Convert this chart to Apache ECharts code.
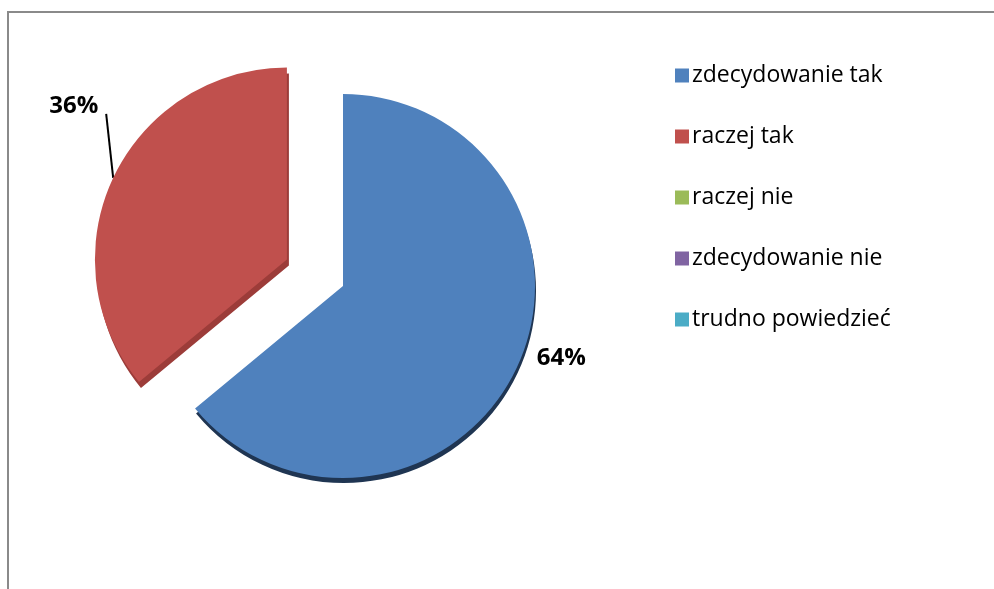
<!DOCTYPE html>
<html>
<head>
<meta charset="utf-8">
<script src="https://cdn.jsdelivr.net/npm/echarts@6/dist/echarts.min.js"></script>
<style>
html,body{margin:0;padding:0;background:#fff;}
#chart{width:994px;height:589px;}
</style>
</head>
<body>
<div id="chart"></div>
<script>
const categories = ['zdecydowanie tak', 'raczej tak', 'raczej nie', 'zdecydowanie nie', 'trudno powiedzieć'];
const values = [64, 36, 0, 0, 0];
const colors = ['#4F81BD', '#C0504D', '#9BBB59', '#8064A2', '#4BACC6'];
const edgeColors = ['#1f3552', '#9c3c39', '#6f8a3c', '#5c4777', '#2f7d91'];

const chart = echarts.init(document.getElementById('chart'), null, {renderer: 'canvas'});

// horizontal nudge of label text and height of an invisible spacer line below it (lifts the label)
const labelPadH = [[0, 0, 0, 6], [0, 9, 0, 0], [0, 0, 0, 0], [0, 0, 0, 0], [0, 0, 0, 0]];
const spacer = [28, 142, 0, 0, 0];

const data = categories.map((name, i) => ({
  name: name,
  value: values[i],
  selected: i === 1,
  itemStyle: {
    color: colors[i],
    shadowColor: edgeColors[i],
    shadowOffsetY: i === 1 ? 6 : 5,
    shadowOffsetX: i === 1 ? 2 : 1,
    shadowBlur: 0
  },
  label: {
    show: values[i] > 0,
    padding: labelPadH[i],
    formatter: '{v|{c}%}\n{s|}',
    rich: {
      v: { fontFamily: 'Open Sans', fontWeight: 'bold', fontSize: 24, lineHeight: 24, color: '#000' },
      s: { lineHeight: spacer[i], height: spacer[i], fontSize: 1 }
    }
  },
  labelLine: { show: i === 1, length: i === 1 ? 1 : 10, length2: 0 }
}));

chart.setOption({
  animation: false,
  graphic: [{
    type: 'rect',
    shape: { x: 8, y: 12, width: 1100, height: 700 },
    style: { fill: null, stroke: '#8a8a8a', lineWidth: 2 },
    silent: true,
    z: -10
  }],
  legend: {
    orient: 'vertical',
    left: 670,
    top: 59,
    itemWidth: 14,
    itemHeight: 14,
    itemGap: 38,
    icon: 'rect',
    selectedMode: false,
    textStyle: { fontFamily: 'Open Sans', fontSize: 23, lineHeight: 23, color: '#000', padding: [0, 0, 0, -2] },
    data: categories
  },
  series: [{
    type: 'pie',
    center: [343, 286],
    radius: [0, 192],
    startAngle: 90,
    clockwise: true,
    selectedMode: 'single',
    selectedOffset: 62,
    avoidLabelOverlap: false,
    label: {
      position: 'outside',
      fontFamily: 'Open Sans',
      fontWeight: 'bold',
      fontSize: 24,
      color: '#000'
    },
    labelLine: {
      lineStyle: { color: '#000', width: 2 }
    },
    labelLayout: function (params) {
      const p = params.labelLinePoints;
      if (params.dataIndex === 1 && p) {
        const x0 = p[0][0], y0 = p[0][1];
        return { labelLinePoints: [[x0, y0], [x0 - 7, y0 - 64], [x0 - 7, y0 - 64]] };
      }
      return {};
    },
    emphasis: { disabled: true },
    data: data
  }]
});
</script>
</body>
</html>
